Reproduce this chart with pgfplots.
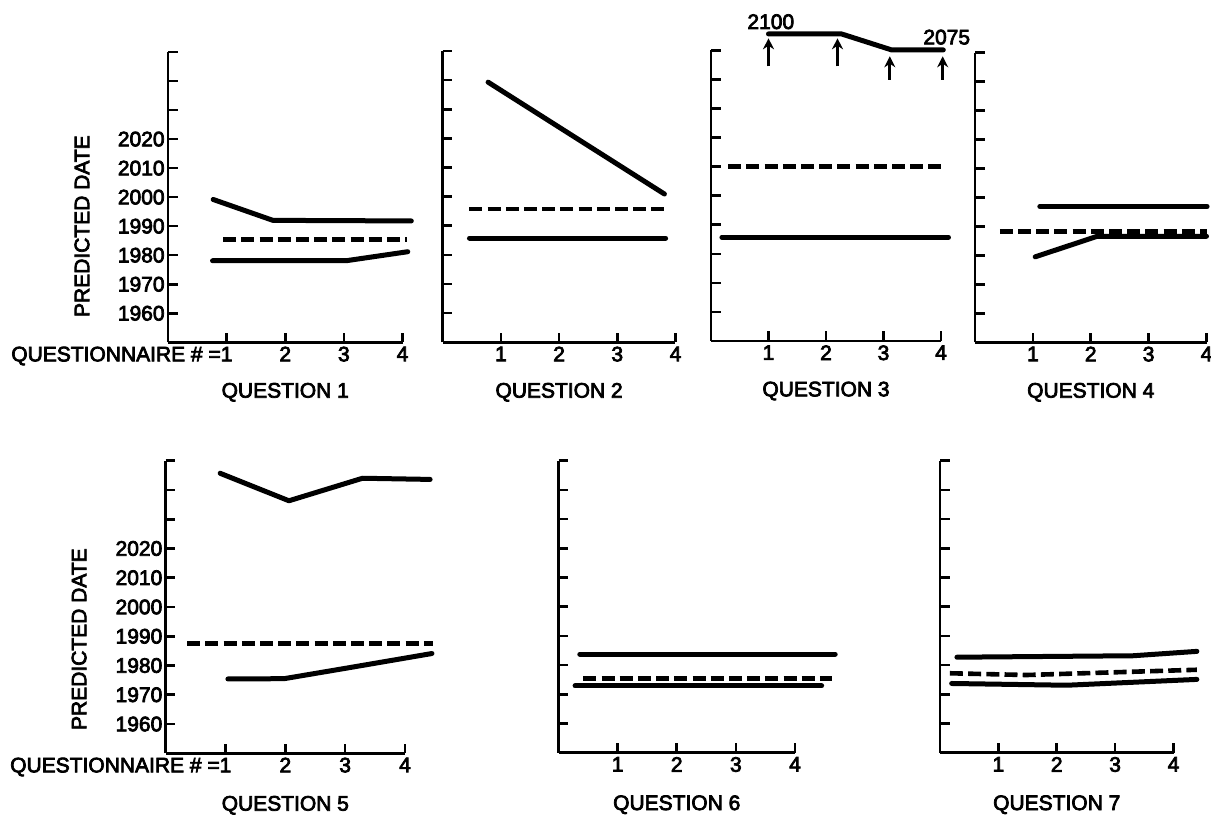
\documentclass[border=0pt]{standalone}
\usepackage{fontspec}
\setmainfont{Liberation Sans}
\newfontfamily\labfamily{Liberation Sans}[FakeBold=3.5]
\usepackage{pgfplots}
\pgfplotsset{compat=1.18}
\usetikzlibrary{arrows.meta}
\newcommand\lab{\labfamily\fontsize{10.5pt}{12pt}\selectfont}
\pgfplotsset{
  panel/.style={
    scale only axis, anchor=south west,
    xmin=0, xmax=4, ymin=1950, ymax=2050,
    axis lines*=left,
    axis line style={line width=1.35pt, -},
    xtick={1,2,3,4}, ytick={1960,1970,...,2050},
    xticklabels={1,2,3,4}, yticklabels={},
    tick align=inside, major tick length=4.8pt,
    tick style={line width=1.3pt, black},
    tick label style={font=\lab},
    xticklabel style={inner sep=2pt},
    yticklabel style={inner sep=1.5pt},
    clip=false,
  },
  lab1/.style={xticklabels={\llap{QUESTIONNAIRE \# =}1,2,3,4},
    yticklabels={1960,1970,1980,1990,2000,2010,2020,,,}},
  sline/.style={black, line width=2.5pt, line cap=round, line join=round},
  dline/.style={black, line width=2.3pt, dash pattern=on 6.5pt off 2.6pt},
}
\begin{document}
\begin{tikzpicture}
\useasboundingbox (0,0) rectangle (605.5pt,409pt);
% ---------- Question 1
\begin{axis}[panel, lab1, at={(84pt,237.85pt)}, width=117.25pt, height=145.15pt]
\addplot[sline] coordinates {(0.77,1999.2) (1.79,1992.0) (4.15,1991.8)};
\addplot[dline] coordinates {(0.94,1985.5) (4.07,1985.5)};
\addplot[sline] coordinates {(0.76,1978.1) (3.04,1978.1) (4.09,1981.2)};
\node[font=\lab] at (rel axis cs:0.5,0) [yshift=-25pt] {QUESTION 1};
\node[font=\lab, rotate=90] at ([xshift=-43pt]axis cs:0,1990) {PREDICTED DATE};
\end{axis}
% ---------- Question 2
\begin{axis}[panel, at={(221.35pt,237.85pt)}, width=116.4pt, height=145.65pt]
\addplot[sline] coordinates {(0.78,2039.3) (3.81,2000.9)};
\addplot[dline] coordinates {(0.46,1995.8) (3.81,1995.8)};
\addplot[sline] coordinates {(0.46,1985.8) (3.83,1985.8)};
\node[font=\lab] at (rel axis cs:0.5,0) [yshift=-25pt] {QUESTION 2};
\end{axis}
% ---------- Question 3
\begin{axis}[panel, at={(355.5pt,238.5pt)}, width=115pt, height=145.25pt]
\addplot[sline] coordinates {(1.0,2055.7) (2.27,2055.7) (3.14,2050.2) (4.04,2050.2)};
\addplot[black, line width=1.5pt, quiver={u=0, v=\thisrow{v}}, -{Stealth[length=5.5pt, width=5.5pt]}]
  table {
x y v
1.0 2044.5 9.7
2.2 2044.5 9.7
3.11 2040.0 8.0
4.03 2040.0 8.0
};
\addplot[dline] coordinates {(0.30,2010.0) (4.04,2010.0)};
\addplot[sline] coordinates {(0.19,1985.7) (4.13,1985.7)};
\node[font=\lab] at (axis cs:1.04,2059.9) {2100};
\node[font=\lab] at (axis cs:4.1,2054.6) {2075};
\node[font=\lab] at (rel axis cs:0.5,0) [yshift=-25pt] {QUESTION 3};
\end{axis}
% ---------- Question 4
\begin{axis}[panel, at={(487.5pt,237.85pt)}, width=115.75pt, height=144.8pt]
\addplot[sline] coordinates {(1.12,1996.9) (4.01,1996.9)};
\addplot[dline] coordinates {(0.43,1988.3) (4.0,1988.3)};
\addplot[sline] coordinates {(1.04,1979.5) (2.11,1986.6) (4.0,1986.6)};
\node[font=\lab] at (rel axis cs:0.5,0) [yshift=-25pt] {QUESTION 4};
\end{axis}
% ---------- Question 5
\begin{axis}[panel, lab1, at={(82.85pt,32.35pt)}, width=119.65pt, height=146.3pt]
\addplot[sline] coordinates {(0.91,2045.7) (2.06,2036.3) (3.29,2044.0) (4.42,2043.6)};
\addplot[dline] coordinates {(0.36,1987.5) (4.47,1987.5)};
\addplot[sline] coordinates {(1.04,1975.4) (1.98,1975.5) (3.05,1979.2) (4.45,1984.1)};
\node[font=\lab] at (rel axis cs:0.5,0) [yshift=-26pt] {QUESTION 5};
\node[font=\lab, rotate=90] at ([xshift=-43.3pt]axis cs:0,1989) {PREDICTED DATE};
\end{axis}
% ---------- Question 6
\begin{axis}[panel, at={(279.25pt,32.65pt)}, width=118.25pt, height=146pt]
\addplot[sline] coordinates {(0.36,1983.75) (4.68,1983.75)};
\addplot[dline] coordinates {(0.42,1975.4) (4.62,1975.4)};
\addplot[sline] coordinates {(0.28,1972.9) (4.45,1972.9)};
\node[font=\lab] at (rel axis cs:0.5,0) [yshift=-26pt] {QUESTION 6};
\end{axis}
% ---------- Question 7
\begin{axis}[panel, at={(470pt,32.65pt)}, width=116.75pt, height=146pt]
\addplot[sline] coordinates {(0.29,1982.7) (3.31,1983.2) (4.40,1984.7)};
\addplot[dline] coordinates {(0.17,1977.2) (1.48,1976.6) (4.40,1978.4)};
\addplot[sline] coordinates {(0.2,1973.7) (2.17,1973.1) (4.40,1975.1)};
\node[font=\lab] at (rel axis cs:0.5,0) [yshift=-26pt] {QUESTION 7};
\end{axis}
\end{tikzpicture}
\end{document}
